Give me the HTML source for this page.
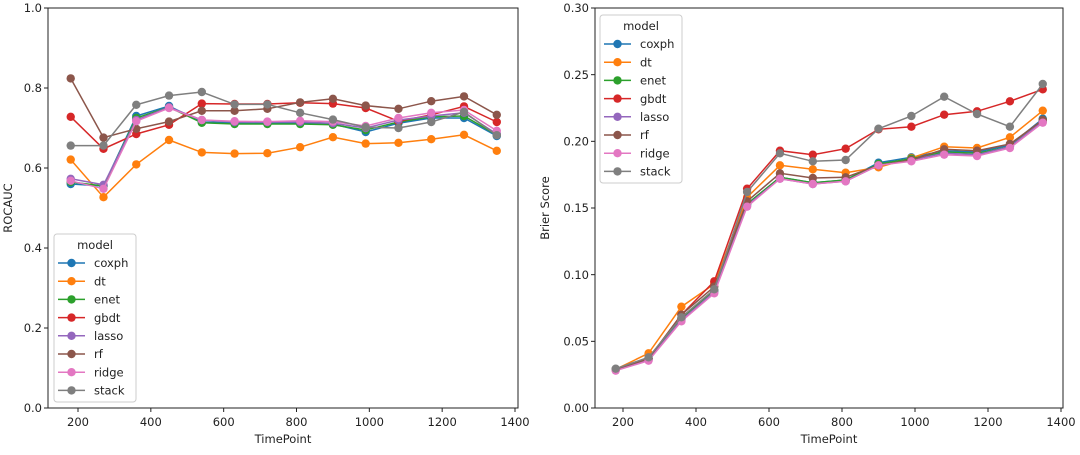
<!DOCTYPE html>
<html><head><meta charset="utf-8"><style>
body{margin:0;background:#fff;}
svg text{font-family:"DejaVu Sans","Liberation Sans",sans-serif;fill:#222;}
</style></head><body>
<svg id="c" width="1080" height="450" viewBox="0 0 1080 450"></svg>
<script>
const timepoints=[180,270,360,450,540,630,720,810,900,990,1080,1170,1260,1350];
const models=["coxph","dt","enet","gbdt","lasso","rf","ridge","stack"];
const colors=["#1f77b4","#ff7f0e","#2ca02c","#d62728","#9467bd","#8c564b","#e377c2","#7f7f7f"];
const xTicks=[200,400,600,800,1000,1200,1400];
const aucTicks=[0,0.2,0.4,0.6,0.8,1.0];
const brierTicks=[0,0.05,0.10,0.15,0.20,0.25,0.30];
const aucCoxph=[0.56,0.555,0.73,0.755,0.715,0.713,0.712,0.713,0.71,0.69,0.712,0.725,0.725,0.68];
const aucDt=[0.621,0.527,0.609,0.67,0.639,0.636,0.637,0.652,0.677,0.661,0.663,0.672,0.683,0.643];
const aucEnet=[0.565,0.555,0.725,0.752,0.713,0.71,0.71,0.71,0.708,0.695,0.715,0.728,0.73,0.683];
const aucGbdt=[0.728,0.648,0.685,0.708,0.761,0.76,0.76,0.763,0.761,0.75,0.717,0.733,0.754,0.715];
const aucLasso=[0.573,0.558,0.72,0.752,0.72,0.715,0.715,0.715,0.712,0.7,0.72,0.73,0.738,0.685];
const aucRf=[0.824,0.676,0.698,0.716,0.743,0.743,0.748,0.764,0.773,0.756,0.748,0.767,0.779,0.733];
const aucRidge=[0.568,0.548,0.717,0.75,0.72,0.717,0.716,0.718,0.716,0.705,0.725,0.738,0.745,0.693];
const aucStack=[0.656,0.656,0.758,0.781,0.79,0.759,0.759,0.738,0.721,0.702,0.7,0.715,0.74,0.682];
const brCoxph=[0.029,0.037,0.067,0.088,0.153,0.173,0.169,0.171,0.184,0.188,0.193,0.192,0.197,0.217];
const brDt=[0.029,0.041,0.076,0.093,0.158,0.182,0.179,0.1765,0.1805,0.1875,0.196,0.195,0.203,0.223];
const brEnet=[0.029,0.037,0.067,0.088,0.153,0.173,0.169,0.171,0.183,0.187,0.192,0.191,0.196,0.216];
const brGbdt=[0.029,0.037,0.07,0.095,0.1645,0.193,0.19,0.1945,0.209,0.211,0.22,0.2225,0.23,0.239];
const brLasso=[0.029,0.036,0.066,0.087,0.152,0.172,0.168,0.17,0.182,0.186,0.191,0.19,0.196,0.215];
const brRf=[0.029,0.037,0.07,0.091,0.155,0.176,0.1725,0.173,0.182,0.186,0.194,0.193,0.198,0.216];
const brRidge=[0.028,0.0355,0.065,0.086,0.151,0.172,0.168,0.17,0.182,0.185,0.19,0.189,0.195,0.214];
const brStack=[0.0295,0.038,0.068,0.089,0.162,0.191,0.185,0.186,0.2095,0.219,0.2335,0.2205,0.211,0.243];
const aucSeries=[aucCoxph,aucDt,aucEnet,aucGbdt,aucLasso,aucRf,aucRidge,aucStack];
const brSeries=[brCoxph,brDt,brEnet,brGbdt,brLasso,brRf,brRidge,brStack];

const svg=document.getElementById('c');
const NS='http://www.w3.org/2000/svg';
function mk(t,a,p){const e=document.createElementNS(NS,t);for(const k in a)e.setAttribute(k,a[k]);(p||svg).appendChild(e);return e;}

function panel(o){
  const g=mk('g',{});
  
  
  const xs=v=>o.x200+(v-200)*(o.x1400-o.x200)/1200;
  const ys=v=>o.bottom-(v-o.ymin)/(o.ymax-o.ymin)*(o.bottom-o.top);
  o.series.forEach((s,i)=>{
    const sg=mk('g',{},g);
    
    
    const pts=s.map((v,j)=>xs(timepoints[j]).toFixed(1)+','+ys(v).toFixed(1)).join(' ');
    const pl=mk('polyline',{points:pts,fill:'none',stroke:colors[i],'stroke-width':1.5},sg);
    
    
    s.forEach((v,j)=>{
      const c=mk('circle',{cx:xs(timepoints[j]),cy:ys(v),r:4.2,fill:colors[i]},sg);
      
      
    });
  });
  const fr=mk('rect',{x:o.left,y:o.top,width:o.right-o.left,height:o.bottom-o.top,fill:'none',stroke:'#222','stroke-width':1},g);
  
  
  xTicks.forEach(t=>{
    const x=xs(t);
    mk('line',{x1:x,x2:x,y1:o.bottom,y2:o.bottom+4,stroke:'#222'},g);
    const tx=mk('text',{x:x,y:o.bottom+18,'text-anchor':'middle','font-size':11.5},g);
    tx.textContent=t;
    
    
  });
  o.yticks.forEach(t=>{
    const y=ys(t);
    mk('line',{x1:o.left-4,x2:o.left,y1:y,y2:y,stroke:'#222'},g);
    const tx=mk('text',{x:o.left-6,y:y+4.2,'text-anchor':'end','font-size':11.5},g);
    tx.textContent=t.toFixed(o.dec);
    
    
  });
  const xl=mk('text',{x:(o.left+o.right)/2,y:443,'text-anchor':'middle','font-size':11.5},g);
  xl.textContent='TimePoint';
  
  
  const cy=(o.top+o.bottom)/2;
  const yl=mk('text',{x:o.ylx,y:cy,'text-anchor':'middle','font-size':11.5,transform:'rotate(-90 '+o.ylx+' '+cy+')'},g);
  yl.textContent=o.ylabel;
  
  
  const lg=mk('g',{},g);
  
  
  mk('rect',{x:o.lx,y:o.ly,width:82,height:168,rx:3,fill:'#fff','fill-opacity':0.85,stroke:'#ccc'},lg);
  const lt=mk('text',{x:o.lx+41,y:o.ly+15,'text-anchor':'middle','font-size':11.5},lg);
  lt.textContent='model';
  
  
  models.forEach((m,i)=>{
    const y=o.ly+29+i*18.2;
    const eg=mk('g',{},lg);
    
    
    mk('line',{x1:o.lx+4,x2:o.lx+31,y1:y,y2:y,stroke:colors[i],'stroke-width':1.5},eg);
    mk('circle',{cx:o.lx+17.5,cy:y,r:4.2,fill:colors[i]},eg);
    const t=mk('text',{x:o.lx+40,y:y+4.2,'font-size':11.5},eg);
    t.textContent=m;
  });
}
panel({name:'rocauc-panel',left:48,right:518,top:8,bottom:408,x200:78,x1400:515,ymin:0,ymax:1,yticks:aucTicks,dec:1,ylabel:'ROCAUC',ylx:12,series:aucSeries,lx:54,ly:234});
panel({name:'brier-panel',left:595,right:1063,top:8,bottom:408,x200:623,x1400:1061,ymin:0,ymax:0.3,yticks:brierTicks,dec:2,ylabel:'Brier Score',ylx:549,series:brSeries,lx:600,ly:15});
</script>
</body></html>
